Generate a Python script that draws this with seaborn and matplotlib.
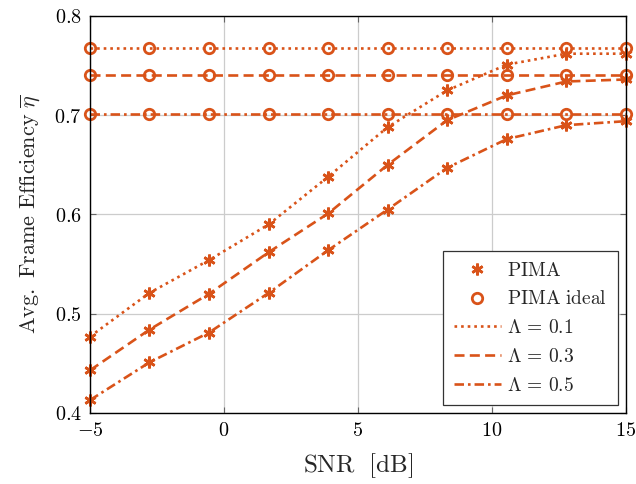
import numpy as np
import pandas as pd
import matplotlib
matplotlib.use("Agg")
import matplotlib.pyplot as plt
from matplotlib.lines import Line2D
from matplotlib.ticker import FixedLocator, FuncFormatter
import seaborn as sns

# SNR grid [dB]
snr = [-5.0, -2.78, -0.56, 1.67, 3.89, 6.11, 8.33, 10.56, 12.78, 15.0]
lambdas = ["0.1", "0.3", "0.5"]

# Simulated average frame efficiency of PIMA
pima_01 = [0.477, 0.521, 0.554, 0.590, 0.638, 0.688, 0.725, 0.751, 0.762, 0.762]
pima_03 = [0.443, 0.484, 0.520, 0.562, 0.601, 0.650, 0.695, 0.720, 0.734, 0.736]
pima_05 = [0.413, 0.451, 0.481, 0.521, 0.564, 0.605, 0.647, 0.676, 0.690, 0.694]

# Ideal PIMA efficiency (no decoding errors)
ideal_01 = [0.768, 0.768, 0.768, 0.768, 0.768, 0.768, 0.768, 0.768, 0.768, 0.768]
ideal_03 = [0.741, 0.741, 0.741, 0.741, 0.741, 0.741, 0.741, 0.741, 0.741, 0.741]
ideal_05 = [0.701, 0.701, 0.701, 0.701, 0.701, 0.701, 0.701, 0.701, 0.701, 0.701]

x_ticks = [-5, 0, 5, 10, 15]
y_ticks = [0.4, 0.5, 0.6, 0.7, 0.8]

color = "#D95319"
lw = 1.9
dash_styles = {
    "0.1": (0, (1.0, 1.5)),
    "0.3": (0, (3.8, 2.0)),
    "0.5": (0, (3.6, 1.5, 1.0, 1.5)),
}
star = (6, 2, 0)

sns.set_style("ticks")
plt.rcParams["mathtext.fontset"] = "cm"
plt.rcParams["font.family"] = ["DejaVu Serif"]

fig = plt.figure(figsize=(6.36, 4.84), dpi=100)
ax = fig.add_axes([0.1415, 0.1467, 0.8425, 0.8203])

pima = {"0.1": pima_01, "0.3": pima_03, "0.5": pima_05}
ideal = {"0.1": ideal_01, "0.3": ideal_03, "0.5": ideal_05}

for lam in lambdas:
    df_ideal = pd.DataFrame({"snr": snr, "eta": ideal[lam]})
    sns.lineplot(data=df_ideal, x="snr", y="eta", ax=ax, color=color,
                 linestyle=dash_styles[lam], linewidth=lw,
                 marker="o", markersize=7.5, markeredgewidth=2.0,
                 markerfacecolor="none", markeredgecolor=color,
                 estimator=None, sort=False, clip_on=False, zorder=3)
    df_pima = pd.DataFrame({"snr": snr, "eta": pima[lam]})
    sns.lineplot(data=df_pima, x="snr", y="eta", ax=ax, color=color,
                 linestyle=dash_styles[lam], linewidth=lw,
                 marker=star, markersize=8.5, markeredgewidth=1.9,
                 markeredgecolor=color,
                 estimator=None, sort=False, clip_on=False, zorder=3)

ax.set_xlim(-5, 15)
ax.set_ylim(0.4, 0.8)
ax.xaxis.set_major_locator(FixedLocator(x_ticks))
ax.yaxis.set_major_locator(FixedLocator(y_ticks))
ax.xaxis.set_major_formatter(FuncFormatter(lambda v, p: r"$%d$" % v))
ax.yaxis.set_major_formatter(FuncFormatter(lambda v, p: r"$%.1f$" % v))
ax.grid(True, color="#cccccc", linewidth=0.9)
ax.set_axisbelow(True)
ax.tick_params(direction="in", top=True, right=True, length=4, width=0.8,
               colors="#666666", labelcolor="black", labelsize=14.5, pad=6)
for s in ax.spines.values():
    s.set_color("black")
    s.set_linewidth(1.0)
    s.set_zorder(4)

ax.set_xlabel(r"$\mathrm{SNR}\ \ \mathrm{[dB]}$", fontsize=18, labelpad=8)
ax.set_ylabel(r"$\mathrm{Avg.\ Frame\ Efficiency}\ \overline{\eta}$", fontsize=16, labelpad=9)

handles = [
    Line2D([], [], color=color, linestyle="none", marker=star,
           markersize=8.5, markeredgewidth=1.9),
    Line2D([], [], color=color, linestyle="none", marker="o", markersize=7.5,
           markeredgewidth=2.0, markerfacecolor="none"),
]
labels = [r"$\mathrm{PIMA}$", r"$\mathrm{PIMA\ ideal}$"]
for lam in lambdas:
    handles.append(Line2D([], [], color=color, linestyle=dash_styles[lam], linewidth=lw))
    labels.append(r"$\Lambda\,=\,%s$" % lam)

leg = ax.legend(handles, labels, loc="lower right", fontsize=14, frameon=True,
                fancybox=False, edgecolor="#333333", framealpha=1.0,
                handlelength=2.4, borderpad=0.55, labelspacing=0.55,
                borderaxespad=0.4, handletextpad=0.35)
leg.get_frame().set_linewidth(0.9)
leg.set_zorder(5)

fig.savefig("out.png", dpi=100)
